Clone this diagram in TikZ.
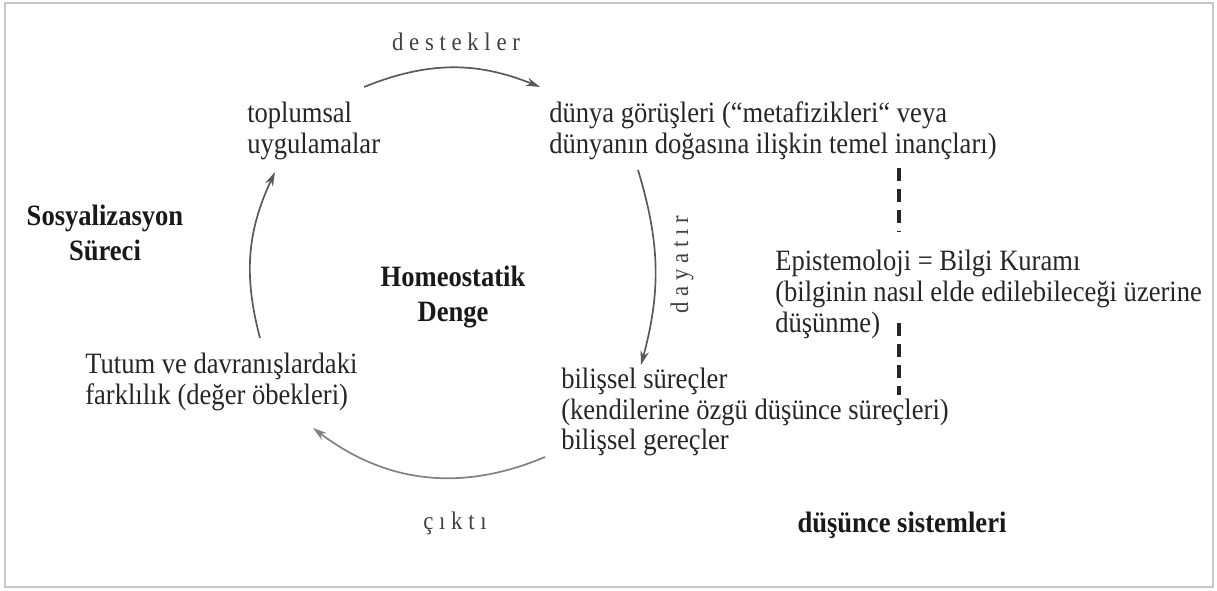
\documentclass[tikz,border=0pt]{standalone}
\usepackage{fontspec}
\setmainfont{Liberation Serif}[FakeStretch=0.9]
\usetikzlibrary{arrows.meta}
\pgfdeclarelayer{edgelayer}
\pgfdeclarelayer{nodelayer}
\pgfsetlayers{edgelayer,nodelayer,main}
\tikzstyle{none}=[inner sep=0pt]
\tikzstyle{plain}=[inner sep=0pt, align=left, anchor=west, text=black!85, font=\fontsize{21}{22}\selectfont]
\tikzstyle{heading}=[inner sep=0pt, align=center, text=black!90, font=\fontsize{21}{25}\selectfont\bfseries]
\tikzstyle{spaced}=[inner sep=0pt, text=black!75, font=\fontsize{18}{20}\selectfont]
\tikzstyle{cycle}=[line width=1.2pt, draw=black!65, -{Stealth[length=10pt,width=6pt]}]
\tikzstyle{link}=[line width=2.4pt, draw=black!85, dash pattern=on 9pt off 6pt]
\tikzstyle{frame}=[line width=1.5pt, draw=black!22]

\begin{document}
\begin{tikzpicture}[x=0.025cm, y=0.025cm]
	\useasboundingbox (0, 0) rectangle (1217, 591);
	\begin{pgfonlayer}{nodelayer}
		\node [style=plain] (0) at (247, 460) {toplumsal\\uygulamalar};
		\node [style=plain] (1) at (549, 460) {dünya görüşleri (“metafizikleri“ veya\\dünyanın doğasına ilişkin temel inançları)};
		\node [style=plain] (2) at (561, 179) {bilişsel süreçler\\(kendilerine özgü düşünce süreçleri)\\bilişsel gereçler};
		\node [style=plain] (3) at (85, 209) {Tutum ve davranışlardaki\\farklılık (değer öbekleri)};
		\node [style=plain] (4) at (775, 297) {Epistemoloji = Bilgi Kuramı\\(bilginin nasıl elde edilebileceği üzerine\\düşünme)};
		\node [style=heading] (5) at (105, 358) {Sosyalizasyon\\Süreci};
		\node [style=heading] (6) at (453, 294) {Homeostatik\\Denge};
		\node [style=heading] (7) at (902, 66) {düşünce sistemleri};
		\node [style=spaced] (20) at (456, 549) {d e s t e k l e r};
		\node [style=spaced, rotate=90] (21) at (682, 326) {d a y a t ı r};
		\node [style=spaced] (22) at (455, 68) {ç ı k t ı};
		\node [style=none] (8) at (364, 504) {};
		\node [style=none] (9) at (540, 504) {};
		\node [style=none] (10) at (638, 421) {};
		\node [style=none] (11) at (641, 226) {};
		\node [style=none] (12) at (545, 134) {};
		\node [style=none] (13) at (313, 163) {};
		\node [style=none] (14) at (260, 253) {};
		\node [style=none] (15) at (275, 419) {};
		\node [style=none] (16) at (899, 423) {};
		\node [style=none] (17) at (899, 359) {};
		\node [style=none] (18) at (899, 268) {};
		\node [style=none] (19) at (899, 196) {};
	\end{pgfonlayer}
	\begin{pgfonlayer}{edgelayer}
		\draw [style=frame] (5, 4) rectangle (1213, 588);
		\draw [style=cycle, bend left=22] (8.center) to (9.center);
		\draw [style=cycle, bend left=16] (10.center) to (11.center);
		\draw [style=cycle, bend left=30, draw=black!50] (12.center) to (13.center);
		\draw [style=cycle, bend left=20] (14.center) to (15.center);
		\draw [style=link] (16.center) to (17.center);
		\draw [style=link] (18.center) to (19.center);
	\end{pgfonlayer}
\end{tikzpicture}
\end{document}
